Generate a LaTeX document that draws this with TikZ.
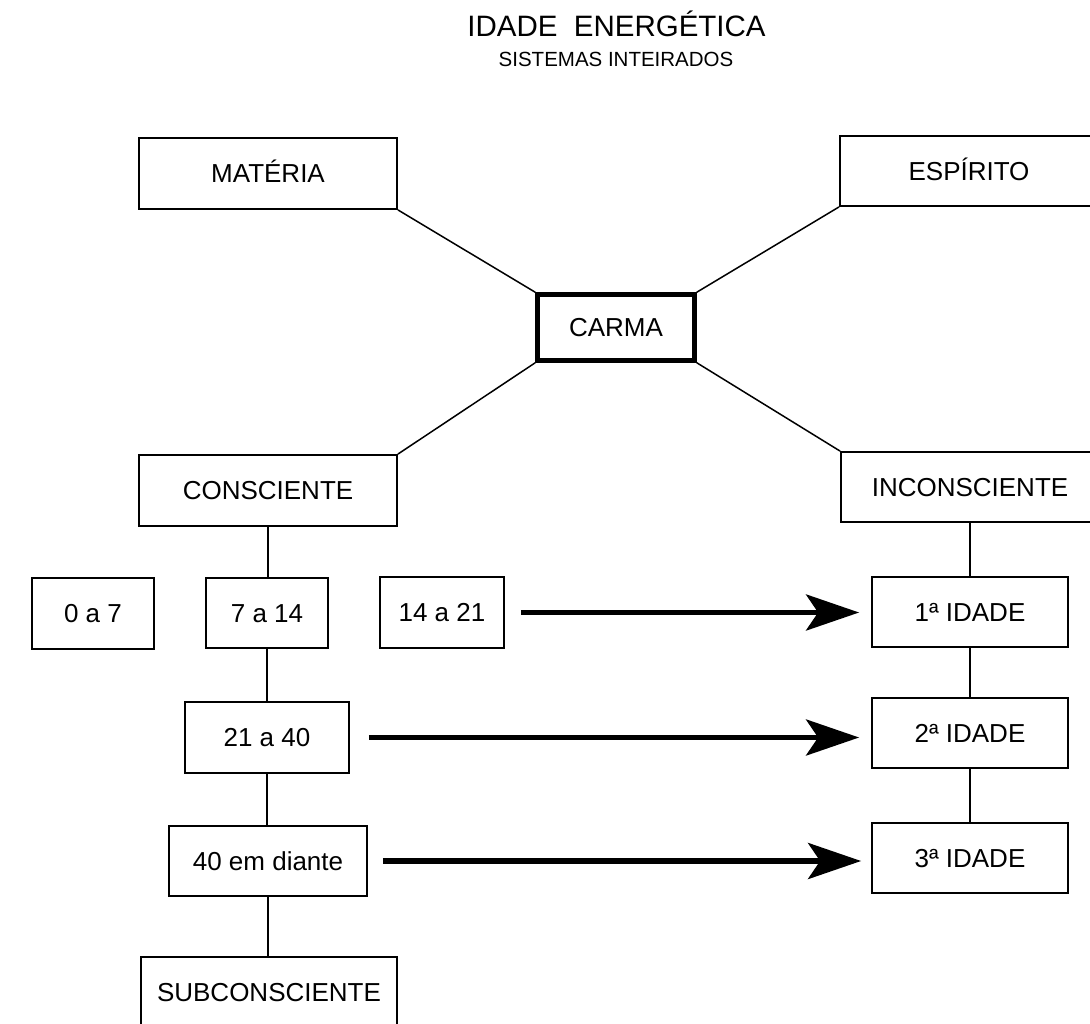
\documentclass[tikz,border=0pt]{standalone}
\usepackage{fontspec}
\setmainfont{Liberation Sans}
\usetikzlibrary{arrows.meta}
\begin{document}
\begin{tikzpicture}[x=1pt,y=-1pt,
  box/.style={draw, line width=1.8pt, inner sep=0pt, text height=18.6pt, text depth=0pt,
    font=\fontsize{26}{30}\selectfont},
  conn/.style={line width=1.5pt},
  bigarrow/.style={line width=5.5pt, -{Stealth[length=53pt,width=36pt,inset=12pt]}}]
\useasboundingbox (0,0) rectangle (1090,1024);
\clip (0,0) rectangle (1090,1024);
\fill[white] (0,0) rectangle (1090,1024);

\node[anchor=base, font=\fontsize{29.5}{34}\selectfont] (title) at (616.5,37) {IDADE\ \ ENERGÉTICA};
\node[anchor=base, font=\fontsize{20.5}{24}\selectfont] (subtitle) at (616,67) {SISTEMAS INTEIRADOS};

\node[box, minimum width=258pt, minimum height=71pt] (mat) at (268,173.5) {MATÉRIA};
\node[box, minimum width=258pt, minimum height=70pt] (esp) at (969,171) {ESPÍRITO};
\node[box, line width=4.5pt, minimum width=157pt, minimum height=66pt] (carma) at (616,327.5) {CARMA};
\node[box, minimum width=258pt, minimum height=71pt] (cons) at (268,490.5) {CONSCIENTE};
\node[box, minimum width=258pt, minimum height=70pt] (incons) at (970,487) {INCONSCIENTE};

\node[box, minimum width=122pt, minimum height=71pt] (a07) at (93,613.5) {0 a 7};
\node[box, minimum width=122pt, minimum height=70pt] (a714) at (267,613) {7 a 14};
\node[box, minimum width=124pt, minimum height=71pt] (a1421) at (442,612.5) {14 a 21};
\node[box, minimum width=196pt, minimum height=70pt] (id1) at (970,612) {1ª IDADE};

\node[box, minimum width=164pt, minimum height=71pt] (a2140) at (267,737.5) {21 a 40};
\node[box, minimum width=196pt, minimum height=70pt] (id2) at (970,733) {2ª IDADE};

\node[box, minimum width=198pt, minimum height=70pt] (a40) at (268,861) {40 em diante};
\node[box, minimum width=196pt, minimum height=70pt] (id3) at (970,858) {3ª IDADE};

\node[box, minimum width=256pt, minimum height=71pt] (sub) at (269,992.5) {SUBCONSCIENTE};

% diagonal connectors
\draw[conn] (mat.south east) -- (carma.north west);
\draw[conn] (esp.south west) -- (carma.north east);
\draw[conn] (carma.south west) -- (cons.north east);
\draw[conn] (carma.south east) -- (incons.north west);

% vertical connectors
\draw[conn] (cons.south) -- (cons.south |- a714.north);
\draw[conn] (a714.south) -- (a714.south |- a2140.north);
\draw[conn] (a2140.south) -- (a2140.south |- a40.north);
\draw[conn] (a40.south) -- (a40.south |- sub.north);
\draw[conn] (incons.south) -- (incons.south |- id1.north);
\draw[conn] (id1.south) -- (id1.south |- id2.north);
\draw[conn] (id2.south) -- (id2.south |- id3.north);

% arrows
\draw[bigarrow, shorten <=16pt, shorten >=12pt] (a1421.east) -- (a1421.east -| id1.west);
\draw[bigarrow, shorten <=19pt, shorten >=12pt] (a2140.east) -- (a2140.east -| id2.west);
\draw[bigarrow, shorten <=15pt, shorten >=10pt] (a40.east) -- (a40.east -| id3.west);
\end{tikzpicture}
\end{document}
